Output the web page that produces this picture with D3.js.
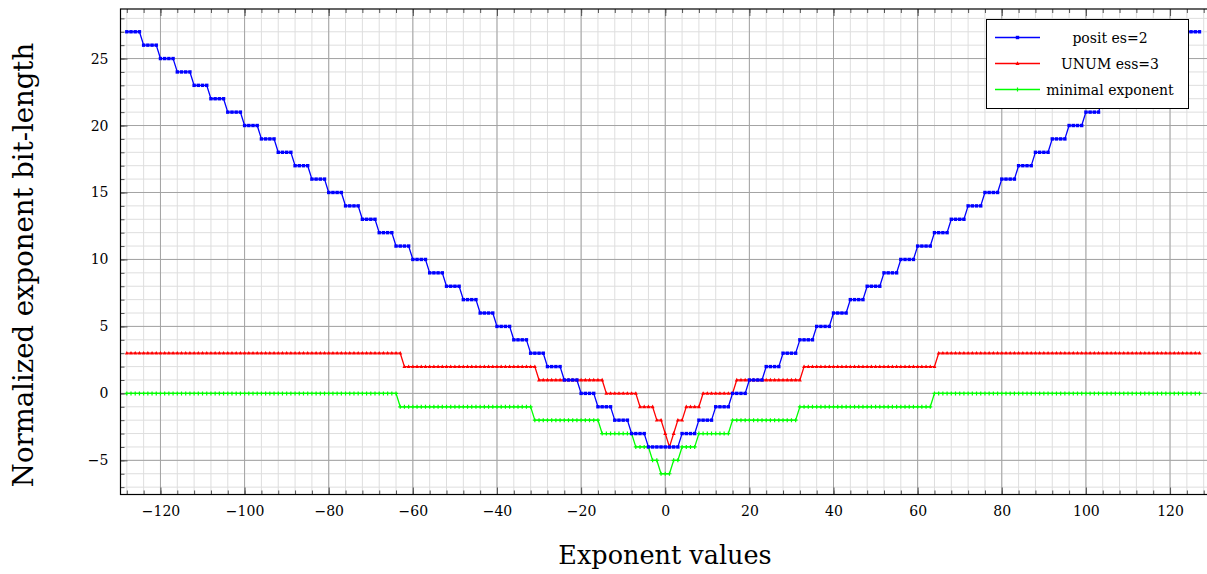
<!DOCTYPE html>
<html>
<head>
<meta charset="utf-8">
<script src="https://cdn.jsdelivr.net/npm/d3@7"></script>
<style>
  html, body { margin: 0; padding: 0; background: #fff; }
  svg { display: block; }
  text { font-family: "DejaVu Serif", "Liberation Serif", serif; fill: #000; }
</style>
</head>
<body>
<div id="chart"></div>
<script>
// Step runs: [first x, last x, value]
const positRuns = [
  [-128, -125, 27], [-124, -121, 26], [-120, -117, 25], [-116, -113, 24],
  [-112, -109, 23], [-108, -105, 22], [-104, -101, 21], [-100, -97, 20],
  [-96, -93, 19], [-92, -89, 18], [-88, -85, 17], [-84, -81, 16],
  [-80, -77, 15], [-76, -73, 14], [-72, -69, 13], [-68, -65, 12],
  [-64, -61, 11], [-60, -57, 10], [-56, -53, 9], [-52, -49, 8],
  [-48, -45, 7], [-44, -41, 6], [-40, -37, 5], [-36, -33, 4],
  [-32, -29, 3], [-28, -25, 2], [-24, -21, 1], [-20, -17, 0],
  [-16, -13, -1], [-12, -9, -2], [-8, -5, -3], [-4, 3, -4],
  [4, 7, -3], [8, 11, -2], [12, 15, -1], [16, 19, 0],
  [20, 23, 1], [24, 27, 2], [28, 31, 3], [32, 35, 4],
  [36, 39, 5], [40, 43, 6], [44, 47, 7], [48, 51, 8],
  [52, 55, 9], [56, 59, 10], [60, 63, 11], [64, 67, 12],
  [68, 71, 13], [72, 75, 14], [76, 79, 15], [80, 83, 16],
  [84, 87, 17], [88, 91, 18], [92, 95, 19], [96, 99, 20],
  [100, 103, 21], [104, 107, 22], [108, 111, 23], [112, 115, 24],
  [116, 119, 25], [120, 123, 26], [124, 127, 27]
];
const unumRuns = [
  [-128, -63, 3], [-62, -31, 2], [-30, -15, 1], [-14, -7, 0],
  [-6, -3, -1], [-2, -1, -2], [0, 0, -3], [1, 1, -4], [2, 2, -3],
  [3, 4, -2], [5, 8, -1], [9, 16, 0], [17, 32, 1], [33, 64, 2], [65, 127, 3]
];
const minimalRuns = [
  [-128, -64, 0], [-63, -32, -1], [-31, -16, -2], [-15, -8, -3],
  [-7, -4, -4], [-3, -2, -5], [-1, 1, -6], [2, 3, -5], [4, 7, -4],
  [8, 15, -3], [16, 31, -2], [32, 63, -1], [64, 127, 0]
];
const seriesNames = ['posit es=2', 'UNUM ess=3', 'minimal exponent'];
const xTickValues = [-120, -100, -80, -60, -40, -20, 0, 20, 40, 60, 80, 100, 120];
const yTickValues = [-5, 0, 5, 10, 15, 20, 25];

// one point per integer exponent inside each run
function expand(runs) {
  const pts = [];
  runs.forEach(r => { for (let e = r[0]; e <= r[1]; e++) pts.push([e, r[2]]); });
  return pts;
}

const W = 1207, H = 574;
const L = 120.5, R = 1210, T = 9, B = 494.5;

const svg = d3.select('#chart').append('svg').attr('width', W).attr('height', H);

const x = d3.scaleLinear().domain([-129.5, 129.5]).range([L, R]);
const y = d3.scaleLinear().domain([-7.55, 28.7]).range([B, T]);

const minorX = d3.range(-128, 129, 4);
const minorY = d3.range(-7, 29, 1);

// grid
const grid = svg.append('g');
grid.selectAll('line.mx').data(minorX).join('line')
  .attr('x1', d => x(d)).attr('x2', d => x(d)).attr('y1', T).attr('y2', B)
  .attr('stroke', '#dedede').attr('stroke-width', 1);
grid.selectAll('line.my').data(minorY).join('line')
  .attr('x1', L).attr('x2', R).attr('y1', d => y(d)).attr('y2', d => y(d))
  .attr('stroke', '#dedede').attr('stroke-width', 1);
grid.selectAll('line.gx').data(xTickValues).join('line')
  .attr('x1', d => x(d)).attr('x2', d => x(d)).attr('y1', T).attr('y2', B)
  .attr('stroke', '#a3a3a3').attr('stroke-width', 1);
grid.selectAll('line.gy').data(yTickValues).join('line')
  .attr('x1', L).attr('x2', R).attr('y1', d => y(d)).attr('y2', d => y(d))
  .attr('stroke', '#a3a3a3').attr('stroke-width', 1);

// axes with inward ticks
function styleAxis(g) {
  g.select('.domain').remove();
  g.selectAll('.tick line').attr('stroke', '#555');
  g.selectAll('.tick text').attr('font-family', '"DejaVu Serif", serif').attr('font-size', 14).attr('fill', '#000');
}
svg.append('g').attr('transform', `translate(0,${B})`)
  .call(d3.axisBottom(x).tickValues(minorX).tickSize(-4).tickFormat('')).call(styleAxis);
svg.append('g').attr('transform', `translate(0,${T})`)
  .call(d3.axisTop(x).tickValues(minorX).tickSize(-4).tickFormat('')).call(styleAxis);
svg.append('g').attr('transform', `translate(${L},0)`)
  .call(d3.axisLeft(y).tickValues(minorY).tickSize(-4).tickFormat('')).call(styleAxis);
svg.append('g').attr('transform', `translate(0,${B})`)
  .call(d3.axisBottom(x).tickValues(xTickValues).tickSize(-7).tickPadding(12)).call(styleAxis);
svg.append('g').attr('transform', `translate(0,${T})`)
  .call(d3.axisTop(x).tickValues(xTickValues).tickSize(-7).tickFormat('')).call(styleAxis);
svg.append('g').attr('transform', `translate(${L},0)`)
  .call(d3.axisLeft(y).tickValues(yTickValues).tickSize(-7).tickPadding(12)).call(styleAxis);

// frame
svg.append('rect').attr('x', L).attr('y', T).attr('width', R - L).attr('height', B - T)
  .attr('fill', 'none').attr('stroke', '#000').attr('stroke-width', 1.2);

const line = d3.line().x(d => x(d[0])).y(d => y(d[1]));
const colors = ['#0000ff', '#ff0000', '#00ff00'];

function drawMarker(g, shape, color, cx, cy) {
  if (shape === 'square') {
    g.append('rect').attr('x', cx - 1.7).attr('y', cy - 1.7).attr('width', 3.4).attr('height', 3.4).attr('fill', color);
  } else if (shape === 'triangle') {
    g.append('path').attr('d', `M${cx},${cy - 2.2}L${cx + 2},${cy + 1.4}L${cx - 2},${cy + 1.4}Z`).attr('fill', color);
  } else {
    g.append('path').attr('d', `M${cx - 2},${cy}H${cx + 2}M${cx},${cy - 2}V${cy + 2}`)
      .attr('stroke', color).attr('stroke-width', 1.2);
  }
}

const shapes = ['square', 'triangle', 'plus'];
const data = [expand(positRuns), expand(unumRuns), expand(minimalRuns)];
const plot = svg.append('g');
// draw green first, then red, then blue on top
[2, 1, 0].forEach(i => {
  plot.append('path').datum(data[i]).attr('d', line)
    .attr('fill', 'none').attr('stroke', colors[i]).attr('stroke-width', 1.3);
  const mg = plot.append('g');
  data[i].forEach(p => drawMarker(mg, shapes[i], colors[i], x(p[0]), y(p[1])));
});

// legend
const lg = svg.append('g');
lg.append('rect').attr('x', 986.5).attr('y', 19.5).attr('width', 202).attr('height', 89)
  .attr('fill', '#fff').attr('stroke', '#000').attr('stroke-width', 1);
const rowsY = [37.5, 63.5, 89.5];
seriesNames.forEach((name, i) => {
  lg.append('line').attr('x1', 995).attr('x2', 1040).attr('y1', rowsY[i]).attr('y2', rowsY[i])
    .attr('stroke', colors[i]).attr('stroke-width', 1.3);
  drawMarker(lg, shapes[i], colors[i], 1017.5, rowsY[i]);
  lg.append('text').attr('x', 1110).attr('y', rowsY[i] + 5).attr('text-anchor', 'middle')
    .attr('font-size', 14).text(name);
});

// axis titles
svg.append('text').attr('x', 665).attr('y', 564).attr('text-anchor', 'middle')
  .attr('font-size', 25.5).text('Exponent values');
svg.append('text').attr('transform', 'translate(33,265) rotate(-90)').attr('text-anchor', 'middle')
  .attr('font-size', 27.5).text('Normalized exponent bit-length');
</script>
</body>
</html>
